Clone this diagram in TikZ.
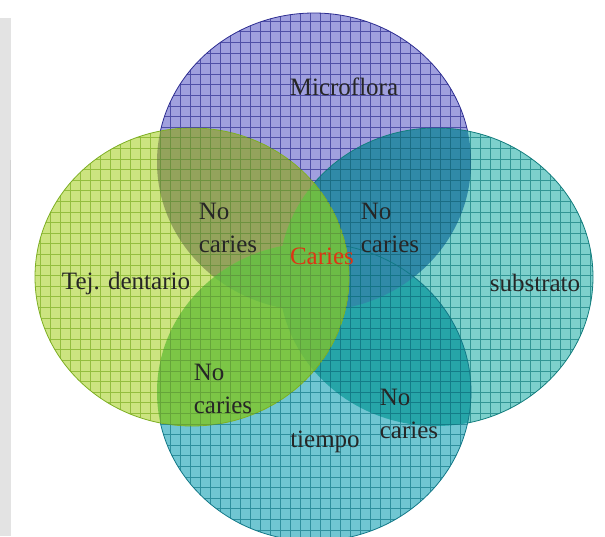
\documentclass[tikz,border=0pt]{standalone}
\usepackage{fontspec}
\setmainfont{Liberation Serif}
\begin{document}
\begin{tikzpicture}[x=1pt,y=-1pt,
  lbl/.style={inner sep=0pt, font=\fontsize{25}{33}\selectfont, text=black!85},
  pair/.style={lbl, align=left},
  rim/.style={line width=0.8pt}]
% region colours
\definecolor{cT}{RGB}{160,160,222}
\definecolor{cR}{RGB}{125,208,204}
\definecolor{cB}{RGB}{112,198,210}
\definecolor{cL}{RGB}{204,228,128}
\definecolor{cTR}{RGB}{48,138,168}
\definecolor{cRB}{RGB}{38,165,168}
\definecolor{cTL}{RGB}{148,163,92}
\definecolor{cLB}{RGB}{124,198,70}
\definecolor{cC}{RGB}{108,188,70}
% grid / outline colours
\definecolor{gT}{RGB}{45,45,145}
\definecolor{gR}{RGB}{18,125,125}
\definecolor{gB}{RGB}{18,120,135}
\definecolor{gL}{RGB}{125,175,35}
\definecolor{cRed}{RGB}{222,52,20}
% the four sets
\def\shT{(314,162) ellipse [x radius=157pt, y radius=149pt]}
\def\shR{(436,277) ellipse [x radius=157pt, y radius=149pt]}
\def\shB{(314,392) ellipse [x radius=157pt, y radius=149pt]}
\def\shL{(192,277) ellipse [x radius=157pt, y radius=149pt]}

\useasboundingbox (0,0) rectangle (605,536);
\fill[white] (0,0) rectangle (605,536);
\clip (0,0) rectangle (605,536);

% faint side band
\fill[gray!22] (0,18) rectangle (11,536);
\draw[gray!35, line width=1pt] (10,160) -- (10,240);

% sets stacked Microflora, substrato, tiempo, Tej. dentario
\fill[cT] \shT;
\draw[gT, rim] \shT;

\fill[cR] \shR;
\begin{scope}\clip \shT; \fill[cTR] \shR; \end{scope}
\draw[gR, rim] \shR;

\fill[cB] \shB;
\begin{scope}\clip \shR; \fill[cRB] \shB; \end{scope}
\begin{scope}\clip \shR; \clip \shT; \fill[cTR] \shB; \end{scope}
\draw[gB, rim] \shB;

\fill[cL] \shL;
\begin{scope}\clip \shL; \fill[cTL] \shT; \end{scope}
\begin{scope}\clip \shL; \fill[cLB] \shB; \end{scope}
\begin{scope}\clip \shL; \fill[cC] \shR; \end{scope}
\begin{scope}\clip \shL; \clip \shT; \fill[cC] \shB; \end{scope}
\draw[gL, rim] \shL;

% grid texture, one layer per set
\foreach \s/\g in {\shT/gT,\shR/gR,\shB/gB,\shL/gL}{
  \begin{scope}
    \clip \s;
    \draw[\g, draw opacity=0.7, line width=1pt, xstep=10pt, ystep=10.6pt]
      (0,0) grid (610,540);
  \end{scope}
}

% labels
\node[lbl] (micro) at (344,87) {Microflora};
\node[lbl] (tej) at (126,283) {Tej. dentario};
\node[lbl] (sub) at (535,283) {substrato};
\node[lbl] (tiem) at (325,442) {tiempo};
\node[lbl, text=cRed] (car) at (322,256) {Caries};
\node[pair] (nc1) at (228,228) {No\\caries};
\node[pair] (nc2) at (390,228) {No\\caries};
\node[pair] (nc3) at (223,389) {No\\caries};
\node[pair] (nc4) at (409,414) {No\\caries};
\end{tikzpicture}
\end{document}
